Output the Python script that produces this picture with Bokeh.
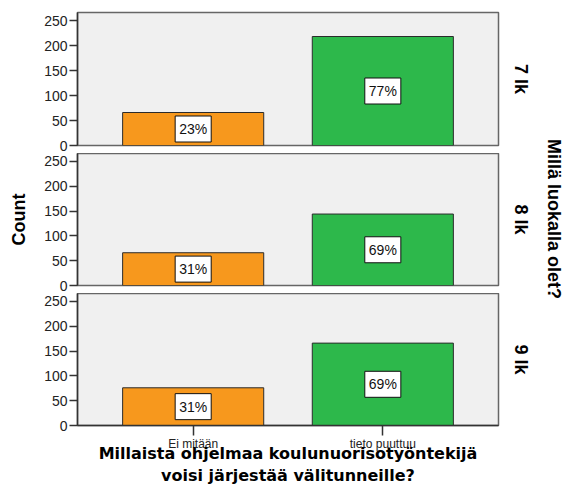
from bokeh.plotting import figure
from bokeh.models import Range1d, FixedTicker, ColumnDataSource, LinearAxis
from bokeh.layouts import column, row
from bokeh.embed import file_html
from bokeh.resources import INLINE
from bokeh.core.properties import value

# ---- data ----
categories = ["Ei mitään", "tieto puuttuu"]
grades = ["7 lk", "8 lk", "9 lk"]
counts_7 = [66, 218]
counts_8 = [66, 144]
counts_9 = [76, 166]
y_ticks = [0, 50, 100, 150, 200, 250]
x_title = "Millaista ohjelmaa koulunuorisotyöntekijä\nvoisi järjestää välitunneille?"
y_title = "Count"
facet_title = "Millä luokalla olet?"
bar_colors = ["#F7981D", "#2DB84B"]

ARIAL = "Liberation Sans"


def label_axis(text, standoff):
    ax = LinearAxis(ticker=FixedTicker(ticks=[]), axis_label=text,
                    axis_line_color=None, major_tick_line_color=None,
                    minor_tick_line_color=None, major_tick_out=0, major_tick_in=0,
                    major_label_text_font_size="0px", major_label_standoff=0,
                    axis_label_standoff=standoff,
                    axis_label_text_font=ARIAL, axis_label_text_font_size="18px",
                    axis_label_text_font_style="bold", axis_label_text_color="black")
    return ax


def make_panel(grade, counts, idx):
    xs = list(range(1, len(categories) + 1))
    total = sum(counts)
    pct = [f"{round(100 * c / total)}%" for c in counts]
    src = ColumnDataSource(dict(x=xs, top=counts, mid=[c / 2 for c in counts],
                                color=bar_colors, label=pct))
    last = idx == 2
    p = figure(x_range=Range1d(0.39, 2.61), y_range=Range1d(0, 266),
               frame_width=421, frame_height=133 if idx == 0 else 132,
               output_backend="svg", toolbar_location=None,
               min_border_left=77, min_border_right=33,
               min_border_top=12 if idx == 0 else 0,
               min_border_bottom=60 if last else 8)
    p.background_fill_color = "#F0F0F0"
    p.border_fill_color = "white"
    p.outline_line_color = "#666666"
    p.outline_line_width = 1.5
    p.xgrid.visible = False
    p.ygrid.visible = False

    p.vbar(x="x", top="top", bottom=0, width=0.744, fill_color="color",
           line_color="#2b2b2b", line_width=1, source=src)
    p.text(x="x", y="mid", text="label", text_align="center", text_baseline="middle",
           text_font=value(ARIAL), text_font_size="14px", text_color="#111111",
           background_fill_color="white", border_line_color="#111111",
           border_line_width=1, padding=dict(left=4, right=4, top=5, bottom=5),
           source=src)

    ya = p.yaxis[0]
    ya.ticker = FixedTicker(ticks=y_ticks)
    ya.minor_tick_line_color = None
    ya.major_tick_in = 0
    ya.major_tick_out = 8
    ya.major_tick_line_color = "#333333"
    ya.major_tick_line_width = 1.5
    ya.axis_line_color = "#333333"
    ya.axis_line_width = 1.5
    ya.major_label_text_font = ARIAL
    ya.major_label_text_font_size = "14px"
    ya.major_label_text_color = "#222222"
    ya.major_label_standoff = 2
    if idx == 1:
        ya.axis_label = y_title
        ya.axis_label_text_font = ARIAL
        ya.axis_label_text_font_size = "18px"
        ya.axis_label_text_font_style = "bold"
        ya.axis_label_text_color = "black"
        ya.axis_label_standoff = 12

    xa = p.xaxis[0]
    if last:
        xa.ticker = FixedTicker(ticks=xs)
        xa.major_label_overrides = {x: c for x, c in zip(xs, categories)}
        xa.minor_tick_line_color = None
        xa.major_tick_in = 0
        xa.major_tick_out = 10
        xa.major_tick_line_color = "#333333"
        xa.major_tick_line_width = 1.5
        xa.axis_line_color = "#333333"
        xa.axis_line_width = 1.5
        xa.major_label_text_font = ARIAL
        xa.major_label_text_font_size = "12px"
        xa.major_label_text_color = "#222222"
        xa.major_label_standoff = 1
        xa.axis_label = x_title
        xa.axis_label_text_font = "DejaVu Sans"
        xa.axis_label_text_font_size = "16px"
        xa.axis_label_text_font_style = "bold"
        xa.axis_label_text_color = "black"
        xa.axis_label_standoff = -10
    else:
        xa.visible = False

    p.add_layout(label_axis(grade, 12), "right")
    return p


panels = [make_panel(g, c, i) for i, (g, c) in enumerate(zip(grades, [counts_7, counts_8, counts_9]))]

side = figure(x_range=Range1d(0, 1), y_range=Range1d(0, 1),
              frame_width=1, frame_height=413,
              x_axis_type=None, y_axis_type=None,
              output_backend="svg", toolbar_location=None,
              min_border_left=0, min_border_right=0,
              min_border_top=12, min_border_bottom=60)
side.outline_line_color = None
side.background_fill_color = "white"
side.border_fill_color = "white"
side.xgrid.visible = False
side.ygrid.visible = False
side.add_layout(label_axis(facet_title, 9), "right")

layout = row(column(*panels, spacing=0), side, spacing=0)

open("out.html", "w").write(file_html(layout, INLINE))
